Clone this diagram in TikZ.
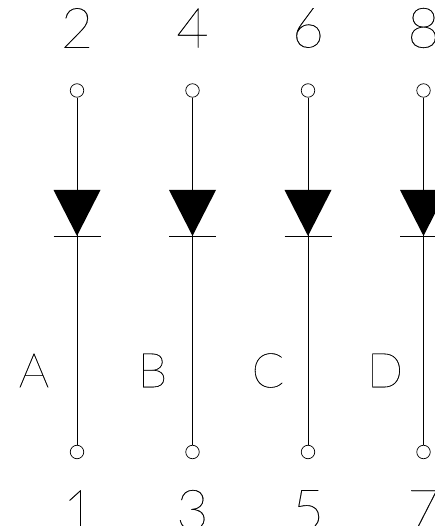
\documentclass[tikz,border=0pt]{standalone}
\usepackage{fontspec}
\setmainfont[FakeBold=0.3]{Lato Thin}
\usetikzlibrary{shapes.geometric}

\begin{document}
\begin{tikzpicture}[auto, x=1pt, y=1pt, node distance=115.5pt]
	\tikzset{
		pin/.style={circle, draw=black, fill=white, line width=0.7pt, minimum size=13.5pt, inner sep=0pt},
		diode/.style={isosceles triangle, isosceles triangle stretches, shape border rotate=270, minimum width=47pt, minimum height=46pt, inner sep=0pt, fill=black, anchor=apex},
		wire/.style={line width=0.7pt},
		caption/.style={font=\fontsize{48}{48}\selectfont, inner sep=0pt},
		number/.style={font=\fontsize{56}{56}\selectfont, inner sep=0pt},
	}
	\clip (0,0) rectangle (435,526);
	\node[pin] (pin2) at (77,435.5) {};
	\node[pin, right of=pin2] (pin4) {};
	\node[pin, right of=pin4] (pin6) {};
	\node[pin, right of=pin6] (pin8) {};
	\node[pin, below of=pin2, node distance=361.5pt] (pin1) {};
	\node[pin, below of=pin4, node distance=361.5pt] (pin3) {};
	\node[pin, below of=pin6, node distance=361.5pt] (pin5) {};
	\node[pin, below of=pin8, node distance=361.5pt] (pin7) {};
	%Draw wires
	\draw[wire] (pin2) -- (pin1);
	\draw[wire] (pin4) -- (pin3);
	\draw[wire] (pin6) -- (pin5);
	\draw[wire] (pin8) -- (pin7);
	%Diodes
	\node[below of=pin2, node distance=146pt, diode] (diodeA) {};
	\node[below of=pin4, node distance=146pt, diode] (diodeB) {};
	\node[below of=pin6, node distance=146pt, diode] (diodeC) {};
	\node[below of=pin8, node distance=146pt, diode] (diodeD) {};
	\draw[wire] ([xshift=-23.5pt]diodeA.apex) -- ([xshift=23.5pt]diodeA.apex);
	\draw[wire] ([xshift=-23.5pt]diodeB.apex) -- ([xshift=23.5pt]diodeB.apex);
	\draw[wire] ([xshift=-23.5pt]diodeC.apex) -- ([xshift=23.5pt]diodeC.apex);
	\draw[wire] ([xshift=-23.5pt]diodeD.apex) -- ([xshift=23.5pt]diodeD.apex);
	%Labels
	\node[number, above of=pin2, node distance=62.5pt] (top2) {2};
	\node[number, above of=pin4, node distance=62.5pt] (top4) {4};
	\node[number, above of=pin6, node distance=62.5pt] (top6) {6};
	\node[number, above of=pin8, node distance=62.5pt] (top8) {8};
	\node[number, below of=pin1, node distance=58pt, xshift=2pt] (bot1) {1};
	\node[number, below of=pin3, node distance=58pt] (bot3) {3};
	\node[number, below of=pin5, node distance=58pt] (bot5) {5};
	\node[number, below of=pin7, node distance=58pt] (bot7) {7};
	\node[caption, above of=pin1, node distance=81.5pt, xshift=-43pt] (nameA) {A};
	\node[caption, above of=pin3, node distance=81.5pt, xshift=-40pt] (nameB) {B};
	\node[caption, above of=pin5, node distance=81.5pt, xshift=-40pt] (nameC) {C};
	\node[caption, above of=pin7, node distance=81.5pt, xshift=-38.5pt] (nameD) {D};
\end{tikzpicture}
\end{document}
